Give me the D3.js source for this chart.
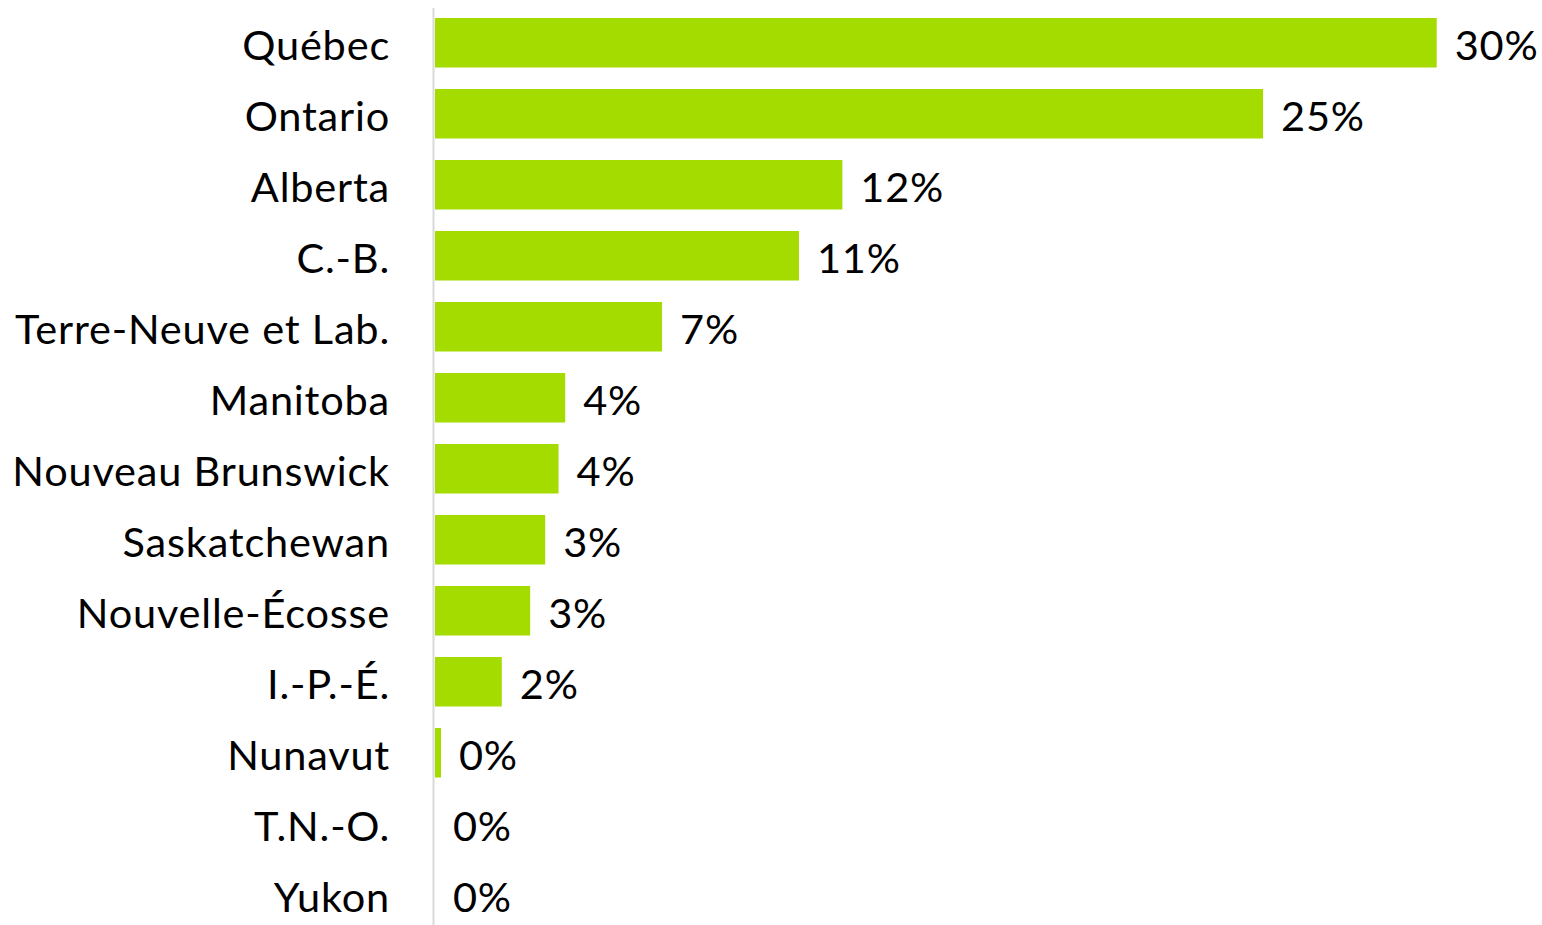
<!DOCTYPE html>
<html>
<head>
<meta charset="utf-8">
<script src="https://cdnjs.cloudflare.com/ajax/libs/d3/7.8.5/d3.min.js"></script>
<style>
  html, body { margin: 0; padding: 0; background: #fff; }
  svg { display: block; }
</style>
</head>
<body>
<div id="chart"></div>
<script>
// provinces, top to bottom
const provinces = ["Québec", "Ontario", "Alberta", "C.-B.", "Terre-Neuve et Lab.", "Manitoba",
  "Nouveau Brunswick", "Saskatchewan", "Nouvelle-Écosse", "I.-P.-É.", "Nunavut", "T.N.-O.", "Yukon"];
// share in percent
const shares = [30.0, 24.8, 12.2, 10.9, 6.8, 3.9, 3.7, 3.3, 2.85, 2.0, 0.18, 0, 0];

const w = 1542, h = 925;
const left = 435, right = 1436.7;

const svg = d3.select("#chart").append("svg")
  .attr("width", w)
  .attr("height", h);

const x = d3.scaleLinear()
  .domain([0, 30])
  .range([left, right]);

const y = d3.scaleBand()
  .domain(provinces)
  .range([7, 7 + 71 * provinces.length])
  .paddingInner(22 / 71)
  .paddingOuter(11 / 71);

const rows = provinces.map((p, i) => ({ name: p, value: shares[i] }));

svg.selectAll("rect.bar")
  .data(rows)
  .enter().append("rect")
  .attr("class", "bar")
  .attr("x", x(0))
  .attr("y", d => y(d.name))
  .attr("width", d => x(d.value) - x(0))
  .attr("height", y.bandwidth() + 0.5)
  .style("fill", "#a5dc00");

// vertical axis line
svg.append("line")
  .attr("x1", 433.5).attr("x2", 433.5)
  .attr("y1", 8).attr("y2", h)
  .style("stroke", "#d9d9d9")
  .style("stroke-width", 2);

const font = "Lato, 'Open Sans', sans-serif";

svg.selectAll("text.cat")
  .data(rows)
  .enter().append("text")
  .attr("class", "cat")
  .attr("x", 390)
  .attr("y", d => y(d.name) + y.bandwidth() / 2)
  .attr("dy", "0.42em")
  .attr("text-anchor", "end")
  .style("font-family", font)
  .style("font-size", "41.5px")
  .style("letter-spacing", "0.8px")
  .style("fill", "#000")
  .text(d => d.name);

svg.selectAll("text.val")
  .data(rows)
  .enter().append("text")
  .attr("class", "val")
  .attr("x", d => x(d.value) + 18)
  .attr("y", d => y(d.name) + y.bandwidth() / 2)
  .attr("dy", "0.42em")
  .style("font-family", font)
  .style("font-size", "41.5px")
  .style("letter-spacing", "0.8px")
  .style("fill", "#000")
  .text(d => Math.round(d.value) + "%");
</script>
</body>
</html>
